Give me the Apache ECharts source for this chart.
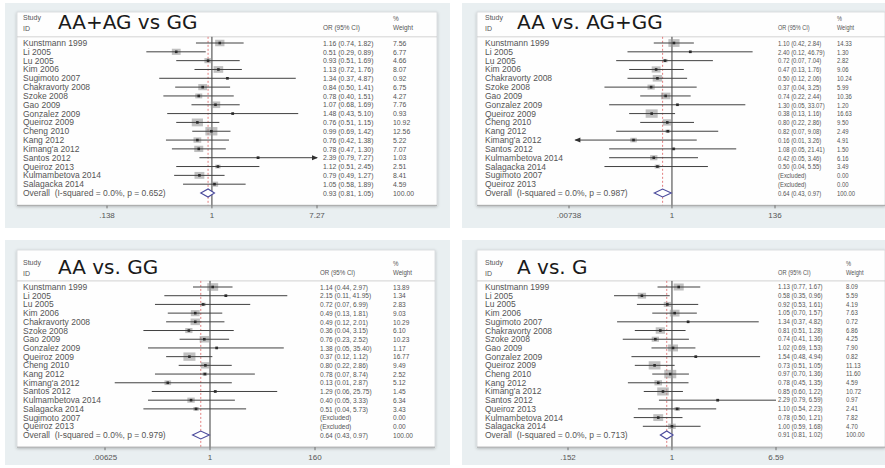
<!DOCTYPE html>
<html>
<head>
<meta charset="utf-8">
<script src="https://cdn.jsdelivr.net/npm/echarts@6/dist/echarts.min.js"></script>
<style>
  html, body { margin: 0; padding: 0; background: #ffffff; }
  #chart { width: 885px; height: 468px; }
</style>
</head>
<body>
<div id="chart"></div>
<script>
// ---- Study lists -------------------------------------------------------
const studiesAll = ['Kunstmann 1999', 'Li 2005', 'Lu 2005', 'Kim 2006', 'Sugimoto 2007',
  'Chakravorty 2008', 'Szoke 2008', 'Gao 2009', 'Gonzalez 2009', 'Queiroz 2009',
  'Cheng 2010', 'Kang 2012', "Kimang'a 2012", 'Santos 2012', 'Queiroz 2013',
  'Kulmambetova 2014', 'Salagacka 2014'];
const studiesHomo = ['Kunstmann 1999', 'Li 2005', 'Lu 2005', 'Kim 2006', 'Chakravorty 2008',
  'Szoke 2008', 'Gao 2009', 'Gonzalez 2009', 'Queiroz 2009', 'Cheng 2010', 'Kang 2012',
  "Kimang'a 2012", 'Santos 2012', 'Kulmambetova 2014', 'Salagacka 2014',
  'Sugimoto 2007', 'Queiroz 2013'];

// ---- AA+AG vs GG -------------------------------------------------------
const domTitle = 'AA+AG vs GG';
const domOR = [1.16, 0.51, 0.93, 1.13, 1.34, 0.84, 0.78, 1.07, 1.48, 0.76, 0.99, 0.76, 0.78, 2.39, 1.12, 0.79, 1.05];
const domLower = [0.74, 0.29, 0.51, 0.72, 0.37, 0.50, 0.40, 0.68, 0.43, 0.51, 0.69, 0.42, 0.47, 0.79, 0.51, 0.49, 0.58];
const domUpper = [1.82, 0.89, 1.69, 1.76, 4.87, 1.41, 1.51, 1.69, 5.10, 1.15, 1.42, 1.38, 1.30, 7.27, 2.45, 1.27, 1.89];
const domWeight = [7.56, 6.77, 4.66, 8.07, 0.92, 6.75, 4.27, 7.76, 0.93, 10.92, 12.56, 5.22, 7.07, 1.03, 2.51, 8.41, 4.59];
const domOverall = [0.93, 0.81, 1.05];
const domHet = ['0.0%', '0.652'];
const domTicks = [0.138, 1, 7.27];
const domTickLabels = ['.138', '1', '7.27'];

// ---- AA vs. AG+GG ------------------------------------------------------
const recTitle = 'AA vs. AG+GG';
const recOR = [1.10, 2.40, 0.72, 0.47, 0.50, 0.37, 0.74, 1.30, 0.38, 0.80, 0.82, 0.16, 1.08, 0.42, 0.50, null, null];
const recLower = [0.42, 0.12, 0.07, 0.13, 0.12, 0.04, 0.22, 0.05, 0.13, 0.22, 0.07, 0.01, 0.05, 0.05, 0.04, null, null];
const recUpper = [2.84, 46.79, 7.04, 1.76, 2.06, 3.25, 2.44, 33.07, 1.16, 2.86, 9.08, 3.26, 21.41, 3.46, 5.55, null, null];
const recWeight = [14.33, 1.30, 2.82, 9.06, 10.24, 5.99, 10.36, 1.20, 16.63, 9.50, 2.49, 4.91, 1.50, 6.16, 3.49, 0, 0];
const recOverall = [0.64, 0.43, 0.97];
const recHet = ['0.0%', '0.987'];
const recTicks = [0.00738, 1, 136];
const recTickLabels = ['.00738', '1', '136'];

// ---- AA vs. GG ---------------------------------------------------------
const homTitle = 'AA vs. GG';
const homOR = [1.14, 2.15, 0.72, 0.49, 0.49, 0.36, 0.76, 1.38, 0.37, 0.80, 0.78, 0.13, 1.29, 0.40, 0.51, null, null];
const homLower = [0.44, 0.11, 0.07, 0.13, 0.12, 0.04, 0.23, 0.05, 0.12, 0.22, 0.07, 0.01, 0.06, 0.05, 0.04, null, null];
const homUpper = [2.97, 41.95, 6.99, 1.81, 2.01, 3.15, 2.52, 35.40, 1.12, 2.86, 8.74, 2.87, 25.75, 3.33, 5.73, null, null];
const homWeight = [13.89, 1.34, 2.83, 9.03, 10.29, 6.10, 10.23, 1.17, 16.77, 9.49, 2.52, 5.12, 1.45, 6.34, 3.43, 0, 0];
const homOverall = [0.64, 0.43, 0.97];
const homHet = ['0.0%', '0.979'];
const homTicks = [0.00625, 1, 160];
const homTickLabels = ['.00625', '1', '160'];

// ---- A vs. G -----------------------------------------------------------
const allTitle = 'A vs. G';
const allOR = [1.13, 0.58, 0.92, 1.05, 1.34, 0.81, 0.74, 1.02, 1.54, 0.73, 0.97, 0.78, 0.85, 2.29, 1.10, 0.78, 1.00];
const allLower = [0.77, 0.35, 0.53, 0.70, 0.37, 0.51, 0.41, 0.69, 0.48, 0.51, 0.70, 0.45, 0.60, 0.79, 0.54, 0.50, 0.59];
const allUpper = [1.67, 0.96, 1.61, 1.57, 4.82, 1.28, 1.36, 1.53, 4.94, 1.05, 1.36, 1.35, 1.22, 6.59, 2.23, 1.21, 1.68];
const allWeight = [8.09, 5.59, 4.19, 7.63, 0.72, 6.86, 4.25, 7.90, 0.82, 11.13, 11.60, 4.59, 10.72, 0.97, 2.41, 7.82, 4.70];
const allOverall = [0.91, 0.81, 1.02];
const allHet = ['0.0%', '0.713'];
const allTicks = [0.152, 1, 6.59];
const allTickLabels = ['.152', '1', '6.59'];

// ---- assemble panels ---------------------------------------------------
const panels = [
  { title: domTitle, names: studiesAll, or: domOR, lo: domLower, hi: domUpper, w: domWeight,
    overall: domOverall, het: domHet, ticks: domTicks, tickLabels: domTickLabels, arrows: { 13: 'right' } },
  { title: recTitle, names: studiesHomo, or: recOR, lo: recLower, hi: recUpper, w: recWeight,
    overall: recOverall, het: recHet, ticks: recTicks, tickLabels: recTickLabels, arrows: { 11: 'left' } },
  { title: homTitle, names: studiesHomo, or: homOR, lo: homLower, hi: homUpper, w: homWeight,
    overall: homOverall, het: homHet, ticks: homTicks, tickLabels: homTickLabels, arrows: {} },
  { title: allTitle, names: studiesAll, or: allOR, lo: allLower, hi: allUpper, w: allWeight,
    overall: allOverall, het: allHet, ticks: allTicks, tickLabels: allTickLabels, arrows: {} }
];

// page layout of each panel (pixels); numScale narrows the numeric columns
const layouts = [
  { gray: [5, 3, 445, 225], boxX: 17, boxW: 420, boxTop: 12, row0: 43, step: 8.824,
    axisL: 107, axisR: 317, labelX: 23, titleX: 58, titleY: 22, orX: 323, wX: 393, numScale: 0.86 },
  { gray: [462, 3, 423, 225], boxX: 477, boxW: 408, boxTop: 12, row0: 43, step: 8.824,
    axisL: 569, axisR: 775, labelX: 485, titleX: 517, titleY: 22, orX: 778, wX: 837, numScale: 0.74 },
  { gray: [5, 240, 445, 225], boxX: 17, boxW: 418, boxTop: 250, row0: 287, step: 8.706,
    axisL: 105, axisR: 315, labelX: 23, titleX: 58, titleY: 267, orX: 320, wX: 393, numScale: 0.82 },
  { gray: [462, 240, 423, 225], boxX: 477, boxW: 408, boxTop: 250, row0: 287, step: 8.706,
    axisL: 568, axisR: 776, labelX: 485, titleX: 517, titleY: 267, orX: 778, wX: 846, numScale: 0.76 }
];

const Y_MIN = -0.7, Y_MAX = 18.4;
const FONT = '"Liberation Sans", Arial, sans-serif';
const TITLE_FONT = '"DejaVu Sans", Verdana, sans-serif';
const TXT = '#555555';
const SMALL = 8.5;

layouts.forEach(L => {
  L.gridTop = L.row0 + Y_MIN * L.step;
  L.gridBottom = L.row0 + Y_MAX * L.step;
});

const fmt = v => v.toFixed(2);

function txt(x, y, s, opts, sx) {
  return {
    type: 'text', x: x, y: y, scaleX: sx || 1,
    style: Object.assign({ x: 0, y: 0, text: s, fill: TXT, font: SMALL + 'px ' + FONT,
      textAlign: 'left', textVerticalAlign: 'middle' }, opts || {})
  };
}

// ---- frames and headings -----------------------------------------------
const graphics = [];
layouts.forEach((L, p) => {
  graphics.push({ type: 'rect', silent: true, z: -10,
    shape: { x: L.gray[0], y: L.gray[1], width: L.gray[2], height: L.gray[3] },
    style: { fill: '#e9eff1' } });
  graphics.push({ type: 'rect', silent: true, z: -9,
    shape: { x: L.boxX, y: L.boxTop, width: L.boxW, height: L.gridBottom - L.boxTop },
    style: { fill: '#fefefe', stroke: '#d4d8da', lineWidth: 0.8,
      shadowBlur: 3, shadowColor: 'rgba(0,0,0,0.25)', shadowOffsetY: 1 } });
  graphics.push({ type: 'line', silent: true, z: -8,
    shape: { x1: L.boxX, y1: L.gridTop, x2: L.boxX + L.boxW, y2: L.gridTop },
    style: { stroke: '#c8c8c8', lineWidth: 0.8 } });
  const head = (x, y, s, font, sx) => graphics.push(Object.assign(txt(x, y, s, { font: font }, sx), { silent: true }));
  head(L.labelX, L.titleY - 5, 'Study', '7px ' + FONT);
  head(L.labelX, L.titleY + 6, 'ID', '7px ' + FONT);
  graphics.push({ type: 'text', silent: true, x: L.titleX, y: L.titleY,
    style: { x: 0, y: 0, text: panels[p].title, fill: '#1a1a1a',
      font: '20px ' + TITLE_FONT, textVerticalAlign: 'middle' } });
  head(L.orX, L.titleY + 5, 'OR (95% CI)', '7.5px ' + FONT, L.numScale);
  head(L.wX, L.titleY - 4, '%', '7.5px ' + FONT, L.numScale);
  head(L.wX, L.titleY + 5, 'Weight', '7.5px ' + FONT, L.numScale);
});

// ---- grids / axes ------------------------------------------------------
const grids = [], xAxes = [], yAxes = [], series = [];

panels.forEach((P, p) => {
  const L = layouts[p];
  grids.push({ left: L.axisL, width: L.axisR - L.axisL, top: L.gridTop,
    height: L.gridBottom - L.gridTop, containLabel: false });
  xAxes.push({ type: 'log', gridIndex: p, min: P.ticks[0], max: P.ticks[P.ticks.length - 1],
    axisLine: { show: false }, axisTick: { show: false }, axisLabel: { show: false },
    splitLine: { show: false } });
  yAxes.push({ type: 'value', gridIndex: p, inverse: true, min: Y_MIN, max: Y_MAX, show: false });

  const n = P.names.length;
  const xmin = P.ticks[0], xmax = P.ticks[P.ticks.length - 1];
  const maxW = Math.max.apply(null, P.w);

  // vertical reference lines: no effect (1) and the pooled estimate
  series.push({
    type: 'custom', xAxisIndex: p, yAxisIndex: p, clip: false, silent: true, z: 1,
    data: [[1, 0], [P.overall[0], 1]],
    encode: { x: 0, y: 1 },
    renderItem(params, api) {
      const x = api.coord([api.value(0), 0])[0];
      const yT = api.coord([1, Y_MIN])[1], yB = api.coord([1, Y_MAX])[1];
      if (params.dataIndex === 0) {
        return { type: 'line', shape: { x1: x, y1: yT, x2: x, y2: yB },
          style: { stroke: '#3a3a3a', lineWidth: 1 } };
      }
      return { type: 'line', shape: { x1: x, y1: yT, x2: x, y2: yB },
        style: { stroke: '#e07070', lineWidth: 0.9, lineDash: [2, 2] } };
    }
  });

  // x-axis line, ticks and tick labels
  series.push({
    type: 'custom', xAxisIndex: p, yAxisIndex: p, clip: false, silent: true, z: 2,
    data: P.ticks.map(t => [t, Y_MAX]),
    encode: { x: 0, y: 1 },
    renderItem(params, api) {
      const i = params.dataIndex;
      const pt = api.coord([api.value(0), Y_MAX]);
      const kids = [
        { type: 'line', shape: { x1: pt[0], y1: pt[1], x2: pt[0], y2: pt[1] + 3 },
          style: { stroke: '#555', lineWidth: 0.8 } },
        txt(pt[0], pt[1] + 10, P.tickLabels[i], { textAlign: 'center', font: '8px ' + FONT })
      ];
      if (i === 0) {
        kids.push({ type: 'line', shape: { x1: L.boxX, y1: pt[1], x2: L.boxX + L.boxW, y2: pt[1] },
          style: { stroke: '#9a9a9a', lineWidth: 0.8 } });
      }
      return { type: 'group', children: kids };
    }
  });

  // study rows and pooled row
  const rows = P.names.map((nm, i) => [P.or[i] == null ? 1 : P.or[i], i]);
  rows.push([P.overall[0], n]);
  const numFont = { font: '8px ' + FONT };
  series.push({
    type: 'custom', xAxisIndex: p, yAxisIndex: p, clip: false, silent: true, z: 3,
    data: rows,
    encode: { x: 0, y: 1 },
    renderItem(params, api) {
      const i = params.dataIndex;
      const y = api.coord([1, i])[1];
      const kids = [];
      if (i === n) {
        const [est, lo, hi] = P.overall;
        const xc = api.coord([est, i])[0], xl = api.coord([lo, i])[0], xh = api.coord([hi, i])[0];
        kids.push({ type: 'polygon', shape: { points: [[xl, y], [xc, y - 4], [xh, y], [xc, y + 4]] },
          style: { fill: '#ffffff', stroke: '#4a4a9c', lineWidth: 1.1 } });
        kids.push(txt(L.labelX, y, 'Overall  (I-squared = ' + P.het[0] + ', p = ' + P.het[1] + ')'));
        kids.push(txt(L.orX, y, fmt(est) + ' (' + fmt(lo) + ', ' + fmt(hi) + ')', numFont, L.numScale));
        kids.push(txt(L.wX, y, '100.00', numFont, L.numScale));
        return { type: 'group', children: kids };
      }
      kids.push(txt(L.labelX, y, P.names[i]));
      if (P.or[i] == null) {
        kids.push(txt(L.orX, y, '(Excluded)', numFont, L.numScale));
        kids.push(txt(L.wX, y, fmt(P.w[i]), numFont, L.numScale));
        return { type: 'group', children: kids };
      }
      const est = P.or[i], lo = P.lo[i], hi = P.hi[i];
      const xc = api.coord([est, i])[0];
      const xl = api.coord([Math.max(lo, xmin), i])[0];
      const xh = api.coord([Math.min(hi, xmax), i])[0];
      const bw = 12 * Math.sqrt(P.w[i] / maxW), bh = bw * 0.7;
      kids.push({ type: 'rect', shape: { x: xc - bw / 2, y: y - bh / 2, width: bw, height: bh },
        style: { fill: 'rgba(150,150,150,0.6)' } });
      kids.push({ type: 'line', shape: { x1: xl, y1: y, x2: xh, y2: y },
        style: { stroke: '#404040', lineWidth: 1 } });
      const dir = P.arrows[i];
      if (dir === 'right') {
        kids.push({ type: 'polygon', shape: { points: [[xh + 1, y], [xh - 5, y - 2.5], [xh - 5, y + 2.5]] },
          style: { fill: '#303030' } });
      } else if (dir === 'left') {
        kids.push({ type: 'polygon', shape: { points: [[xl - 1, y], [xl + 5, y - 2.5], [xl + 5, y + 2.5]] },
          style: { fill: '#303030' } });
      }
      kids.push({ type: 'rect', shape: { x: xc - 1.3, y: y - 1.3, width: 2.6, height: 2.6 },
        style: { fill: '#2a2a2a' } });
      kids.push(txt(L.orX, y, fmt(est) + ' (' + fmt(lo) + ', ' + fmt(hi) + ')', numFont, L.numScale));
      kids.push(txt(L.wX, y, fmt(P.w[i]), numFont, L.numScale));
      return { type: 'group', children: kids };
    }
  });
});

const chart = echarts.init(document.getElementById('chart'), null, { renderer: 'svg' });
chart.setOption({
  backgroundColor: '#ffffff',
  animation: false,
  grid: grids,
  xAxis: xAxes,
  yAxis: yAxes,
  graphic: graphics,
  series: series
});
</script>
</body>
</html>
